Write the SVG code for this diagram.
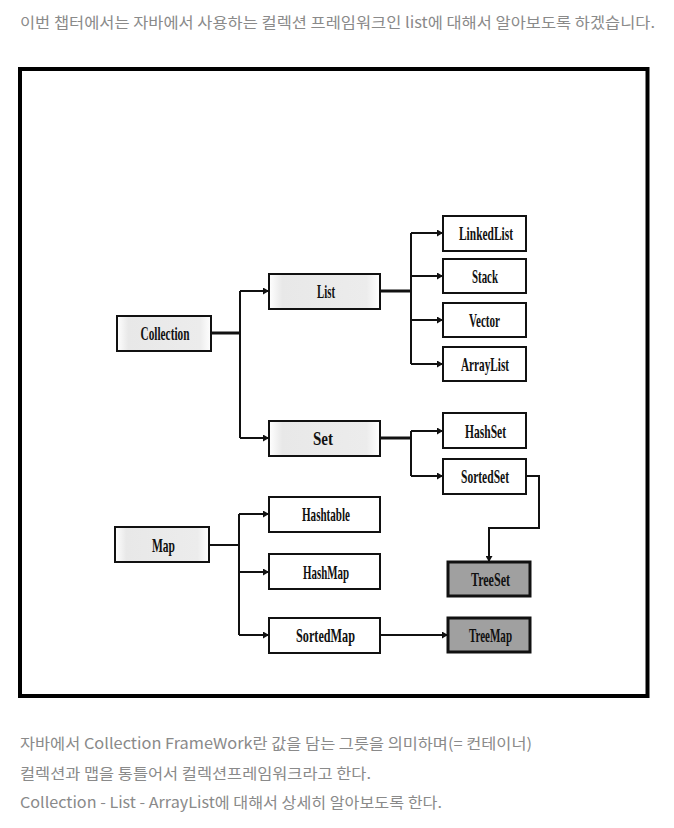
<svg xmlns="http://www.w3.org/2000/svg" width="674" height="828" viewBox="0 0 674 828">
<style>
.para{font-family:"Noto Sans CJK KR","Noto Sans",sans-serif;font-size:15px;fill:#8a8a8a;}
.lbl{font-family:"Liberation Serif","Times New Roman",serif;font-size:19px;font-weight:bold;fill:#111;text-anchor:middle;}
.box{fill:#fff;stroke:#111;stroke-width:2;}
.soft{fill:url(#soft);stroke:#111;stroke-width:2;}
.dark{fill:#a0a0a0;stroke:#111;stroke-width:3;}
.ln{fill:none;stroke:#111;stroke-width:2;}
.thick{fill:none;stroke:#111;stroke-width:3;}
.arr{fill:none;stroke:#111;stroke-width:2;marker-end:url(#ah);}
</style>
<defs>
<linearGradient id="soft" x1="0" y1="0" x2="1" y2="0">
<stop offset="0" stop-color="#ffffff"/>
<stop offset="0.12" stop-color="#e8e8e8"/>
<stop offset="0.88" stop-color="#ececec"/>
<stop offset="1" stop-color="#ffffff"/>
</linearGradient>
<marker id="ah" markerUnits="userSpaceOnUse" markerWidth="7" markerHeight="7" refX="6" refY="3.5" orient="auto">
<path d="M0,0 L6,3.5 L0,7 Z" fill="#111"/>
</marker>
</defs>
<rect width="674" height="828" fill="#fff"/>
<text class="para" x="20" y="28" textLength="635" lengthAdjust="spacingAndGlyphs">이번 챕터에서는 자바에서 사용하는 컬렉션 프레임워크인 list에 대해서 알아보도록 하겠습니다.</text>
<rect x="20" y="69" width="627.5" height="627" fill="none" stroke="#000" stroke-width="4"/>
<g id="connectors">
<path class="thick" d="M211,333 H240"/>
<path class="ln" d="M240,291 V438"/>
<path class="arr" d="M240,291 H269"/>
<path class="arr" d="M240,438 H269"/>
<path class="thick" d="M380,291 H411"/>
<path class="ln" d="M411,233 V364"/>
<path class="arr" d="M411,233 H443"/>
<path class="arr" d="M411,276 H443"/>
<path class="arr" d="M411,320 H443"/>
<path class="arr" d="M411,364 H443"/>
<path class="thick" d="M380,438 H411"/>
<path class="ln" d="M411,431 V476"/>
<path class="arr" d="M411,431 H443"/>
<path class="arr" d="M411,476 H443"/>
<path class="arr" d="M526,476 H539 V528 H489 V562"/>
<path class="ln" d="M209,545 H239"/>
<path class="ln" d="M239,514 V635"/>
<path class="arr" d="M239,514 H269"/>
<path class="arr" d="M239,572 H269"/>
<path class="arr" d="M239,635 H269"/>
<path class="arr" d="M380,635 H448"/>
</g>
<g id="collection"><rect class="soft" x="117" y="316" width="94" height="35"/><text class="lbl" x="165" y="340" textLength="49" lengthAdjust="spacingAndGlyphs">Collection</text></g>
<g id="list"><rect class="soft" x="269" y="274" width="111" height="35"/><text class="lbl" x="326" y="298" textLength="18" lengthAdjust="spacingAndGlyphs">List</text></g>
<g id="set"><rect class="soft" x="269" y="421" width="111" height="35"/><text class="lbl" x="323" y="445" textLength="20" lengthAdjust="spacingAndGlyphs">Set</text></g>
<g id="map"><rect class="soft" x="115" y="527" width="94" height="35"/><text class="lbl" x="163.5" y="552" textLength="23" lengthAdjust="spacingAndGlyphs">Map</text></g>
<g id="linkedlist"><rect class="box" x="443" y="216" width="83" height="35"/><text class="lbl" x="486" y="240" textLength="54" lengthAdjust="spacingAndGlyphs">LinkedList</text></g>
<g id="stack"><rect class="box" x="443" y="259" width="83" height="34"/><text class="lbl" x="485" y="283" textLength="26" lengthAdjust="spacingAndGlyphs">Stack</text></g>
<g id="vector"><rect class="box" x="443" y="303" width="83" height="34"/><text class="lbl" x="484.5" y="327" textLength="31" lengthAdjust="spacingAndGlyphs">Vector</text></g>
<g id="arraylist"><rect class="box" x="443" y="347" width="83" height="34"/><text class="lbl" x="485" y="371" textLength="48" lengthAdjust="spacingAndGlyphs">ArrayList</text></g>
<g id="hashset"><rect class="box" x="443" y="413" width="83" height="35"/><text class="lbl" x="485.5" y="438" textLength="41" lengthAdjust="spacingAndGlyphs">HashSet</text></g>
<g id="sortedset"><rect class="box" x="443" y="459" width="83" height="35"/><text class="lbl" x="485" y="483" textLength="48" lengthAdjust="spacingAndGlyphs">SortedSet</text></g>
<g id="treeset"><rect class="dark" x="448" y="562" width="82" height="34"/><text class="lbl" x="490.5" y="586" textLength="39" lengthAdjust="spacingAndGlyphs">TreeSet</text></g>
<g id="hashtable"><rect class="box" x="269" y="497" width="111" height="35"/><text class="lbl" x="326" y="521" textLength="48" lengthAdjust="spacingAndGlyphs">Hashtable</text></g>
<g id="hashmap"><rect class="box" x="269" y="554" width="111" height="35"/><text class="lbl" x="326" y="579" textLength="46" lengthAdjust="spacingAndGlyphs">HashMap</text></g>
<g id="sortedmap"><rect class="box" x="269" y="618" width="111" height="35"/><text class="lbl" x="325.5" y="642" textLength="59" lengthAdjust="spacingAndGlyphs">SortedMap</text></g>
<g id="treemap"><rect class="dark" x="448" y="618" width="82" height="34"/><text class="lbl" x="490.5" y="642" textLength="43" lengthAdjust="spacingAndGlyphs">TreeMap</text></g>
<text class="para" x="20" y="749" textLength="512" lengthAdjust="spacingAndGlyphs">자바에서 Collection FrameWork란 값을 담는 그릇을 의미하며(= 컨테이너)</text>
<text class="para" x="20" y="779" textLength="351" lengthAdjust="spacingAndGlyphs">컬렉션과 맵을 통틀어서 컬렉션프레임워크라고 한다.</text>
<text class="para" x="20" y="808" textLength="422" lengthAdjust="spacingAndGlyphs">Collection - List - ArrayList에 대해서 상세히 알아보도록 한다.</text>
</svg>
